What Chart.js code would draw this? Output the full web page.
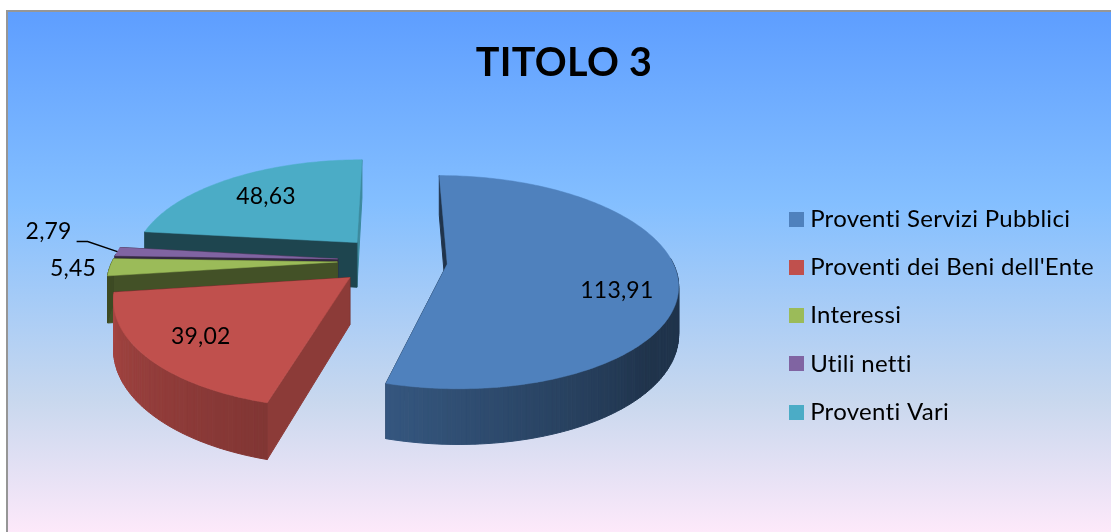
<!DOCTYPE html>
<html>
<head>
<meta charset="utf-8">
<title>TITOLO 3</title>
<style>
  html, body { margin: 0; background: #fff; overflow: hidden; }
  #bg { position: absolute; left: 6px; top: 10px; right: 0; bottom: 0; box-sizing: border-box;
    border-left: 2px solid #969696; border-top: 2px solid #969696;
    background: linear-gradient(#5e9eff 0%, #84bfff 37%, #c9d8ee 75%, #fde9fa 100%); }
  #myChart { position: absolute; left: 0; top: 0; }
</style>
<script src="https://cdn.jsdelivr.net/npm/chart.js@4"></script>
</head>
<body>
<div id="bg"></div>
<canvas id="myChart" width="1111" height="532"></canvas>
<script>
  const categories = ['Proventi Servizi Pubblici', "Proventi dei Beni dell'Ente", 'Interessi', 'Utili netti', 'Proventi Vari'];
  const values = [113.91, 39.02, 5.45, 2.79, 48.63];
  const colors = ['#4f81bd', '#c0504d', '#9bbb59', '#8064a2', '#4bacc6'];

  // how the flat pie gets projected to look like the 3d one
  const view = { shiftX: -4.5, shiftY: -55, tilt: 0.455, persp: 0.00075, depth: 46 };
  const labelRadius = [0.75, 0.76, 1.16, 1.39, 0.7];
  const labelTurn = [11.5, 0, 0, 7.5, 0];

  function project(arc, px, py, h) {
    const s = 1 / (1 - view.persp * py);
    return {
      x: arc.x + view.shiftX + px * s,
      y: arc.y + view.shiftY + view.tilt * py * s + (h || 0) * s
    };
  }

  // point of a slice in the pie plane, r and a are polar around its own (exploded) tip
  function slicePoint(arc, r, a) {
    const mid = (arc.startAngle + arc.endAngle) / 2;
    const off = arc.options.offset;
    return [off * Math.cos(mid) + r * Math.cos(a), off * Math.sin(mid) + r * Math.sin(a)];
  }

  function shade(hex, f) {
    const n = parseInt(hex.slice(1), 16);
    return 'rgb(' + [(n >> 16) & 255, (n >> 8) & 255, n & 255].map(c => Math.round(c * f)).join(',') + ')';
  }

  const clock = a => (((a + Math.PI / 2) * 180 / Math.PI) % 360 + 360) % 360;

  function wallLight(deg) {
    if (deg <= 130 || deg >= 262) return 0.4;
    if (deg <= 195) return 0.4 + (deg - 130) / 65 * 0.27;
    return 0.67 + (deg - 195) / 67 * 0.2;
  }

  function cutLight(deg) {
    if (deg < 90 || deg > 180) return deg < 90 && deg > 60 ? 0.8 : 0.4;
    return 0.8 - (deg - 90) / 90 * 0.4;
  }

  function quad(ctx, a, b, c, d, fill) {
    ctx.fillStyle = ctx.strokeStyle = fill;
    ctx.lineWidth = 1;
    ctx.beginPath();
    ctx.moveTo(a.x, a.y); ctx.lineTo(b.x, b.y); ctx.lineTo(c.x, c.y); ctx.lineTo(d.x, d.y);
    ctx.closePath();
    ctx.fill();
    ctx.stroke();
  }

  function drawCut(ctx, arc, cut, color) {
    const tip = slicePoint(arc, 0, cut.a), rim = slicePoint(arc, arc.outerRadius, cut.a);
    quad(ctx, project(arc, tip[0], tip[1]), project(arc, rim[0], rim[1]),
      project(arc, rim[0], rim[1], view.depth), project(arc, tip[0], tip[1], view.depth),
      shade(color, cutLight(cut.normal)));
  }

  function drawSlice(ctx, arc, color) {
    const R = arc.outerRadius, a0 = arc.startAngle, a1 = arc.endAngle;
    const steps = Math.max(2, Math.ceil((a1 - a0) * 180 / Math.PI));
    // the two cut faces, the one turned away from the viewer first
    const cuts = [
      { a: a0, normal: (clock(a0) + 270) % 360 },
      { a: a1, normal: (clock(a1) + 90) % 360 }
    ].sort((p, q) => Math.cos(q.normal * Math.PI / 180) - Math.cos(p.normal * Math.PI / 180));
    cuts.forEach(c => drawCut(ctx, arc, c, color));
    for (let i = 0; i < steps; i++) {
      const a = a0 + (a1 - a0) * i / steps, b = a0 + (a1 - a0) * (i + 1) / steps;
      if (Math.sin((a + b) / 2) < -0.05) continue;
      const p = slicePoint(arc, R, a), q = slicePoint(arc, R, b);
      quad(ctx, project(arc, p[0], p[1]), project(arc, q[0], q[1]),
        project(arc, q[0], q[1], view.depth), project(arc, p[0], p[1], view.depth),
        shade(color, wallLight(clock((a + b) / 2))));
    }
    ctx.fillStyle = color;
    ctx.strokeStyle = color;
    ctx.lineWidth = 0.5;
    ctx.beginPath();
    const tip = slicePoint(arc, 0, a0), t = project(arc, tip[0], tip[1]);
    ctx.moveTo(t.x, t.y);
    for (let i = 0; i <= steps; i++) {
      const p = slicePoint(arc, R, a0 + (a1 - a0) * i / steps), s = project(arc, p[0], p[1]);
      ctx.lineTo(s.x, s.y);
    }
    ctx.closePath();
    ctx.fill();
    ctx.stroke();
  }

  const pie3d = {
    id: 'pie3d',
    beforeLayout(chart) {
      // lato runs narrower than the original font, also stops the "ti" ligature
      chart.ctx.letterSpacing = '0.3px';
    },
    beforeDatasetDraw(chart, args) {
      const ctx = chart.ctx, arcs = args.meta.data;
      ctx.save();
      // back to front
      [4, 3, 2, 1, 0].forEach(i => drawSlice(ctx, arcs[i], colors[i]));

      ctx.font = '23px Lato';
      ctx.letterSpacing = '0.2px';
      ctx.fillStyle = '#000';
      ctx.textAlign = 'center';
      ctx.textBaseline = 'middle';
      arcs.forEach((arc, i) => {
        const mid = (arc.startAngle + arc.endAngle) / 2;
        const p = slicePoint(arc, arc.outerRadius * labelRadius[i], mid + labelTurn[i] * Math.PI / 180);
        const pos = project(arc, p[0], p[1]);
        ctx.fillStyle = '#000';
        ctx.fillText(values[i].toFixed(2).replace('.', ','), pos.x, pos.y);
        if (i === 3) {
          const e = slicePoint(arc, arc.outerRadius, mid), end = project(arc, e[0], e[1]);
          ctx.strokeStyle = '#000';
          ctx.lineWidth = 1.5;
          ctx.beginPath();
          ctx.moveTo(pos.x + 28, pos.y + 10);
          ctx.lineTo(pos.x + 39, pos.y + 10);
          ctx.lineTo(end.x, end.y);
          ctx.stroke();
        }
      });
      ctx.restore();
      return false;
    }
  };

  // square legend swatch as an image, so it can sit closer to the text than the
  // font-size based gap chart.js leaves
  function swatch(color) {
    const c = document.createElement('canvas');
    c.width = c.height = 15;
    const g = c.getContext('2d');
    g.fillStyle = color;
    g.fillRect(0, 0, 15, 15);
    return c;
  }

  new Chart(document.getElementById('myChart'), {
    type: 'pie',
    data: {
      labels: categories,
      datasets: [{
        data: values,
        backgroundColor: colors,
        borderWidth: 0,
        offset: 55,
        hoverOffset: 0
      }]
    },
    plugins: [pie3d],
    options: {
      responsive: false,
      animation: false,
      radius: 225,
      layout: { padding: { left: 24, top: 0, right: 7, bottom: 0 } },
      plugins: {
        tooltip: { enabled: false },
        title: {
          display: true,
          text: 'TITOLO 3',
          color: '#000',
          font: { family: 'Lato', size: 39.5, weight: 'bold' },
          padding: { top: 40, bottom: 12 }
        },
        legend: {
          position: 'right',
          fullSize: false,
          labels: {
            usePointStyle: true,
            boxWidth: 4,
            padding: 24.25,
            color: '#000',
            font: { family: 'Lato', size: 24 },
            generateLabels: chart => categories.map((text, i) => ({
              text: text,
              index: i,
              fillStyle: colors[i],
              strokeStyle: colors[i],
              lineWidth: 0,
              pointStyle: swatch(colors[i])
            }))
          }
        }
      }
    }
  });
</script>
</body>
</html>
